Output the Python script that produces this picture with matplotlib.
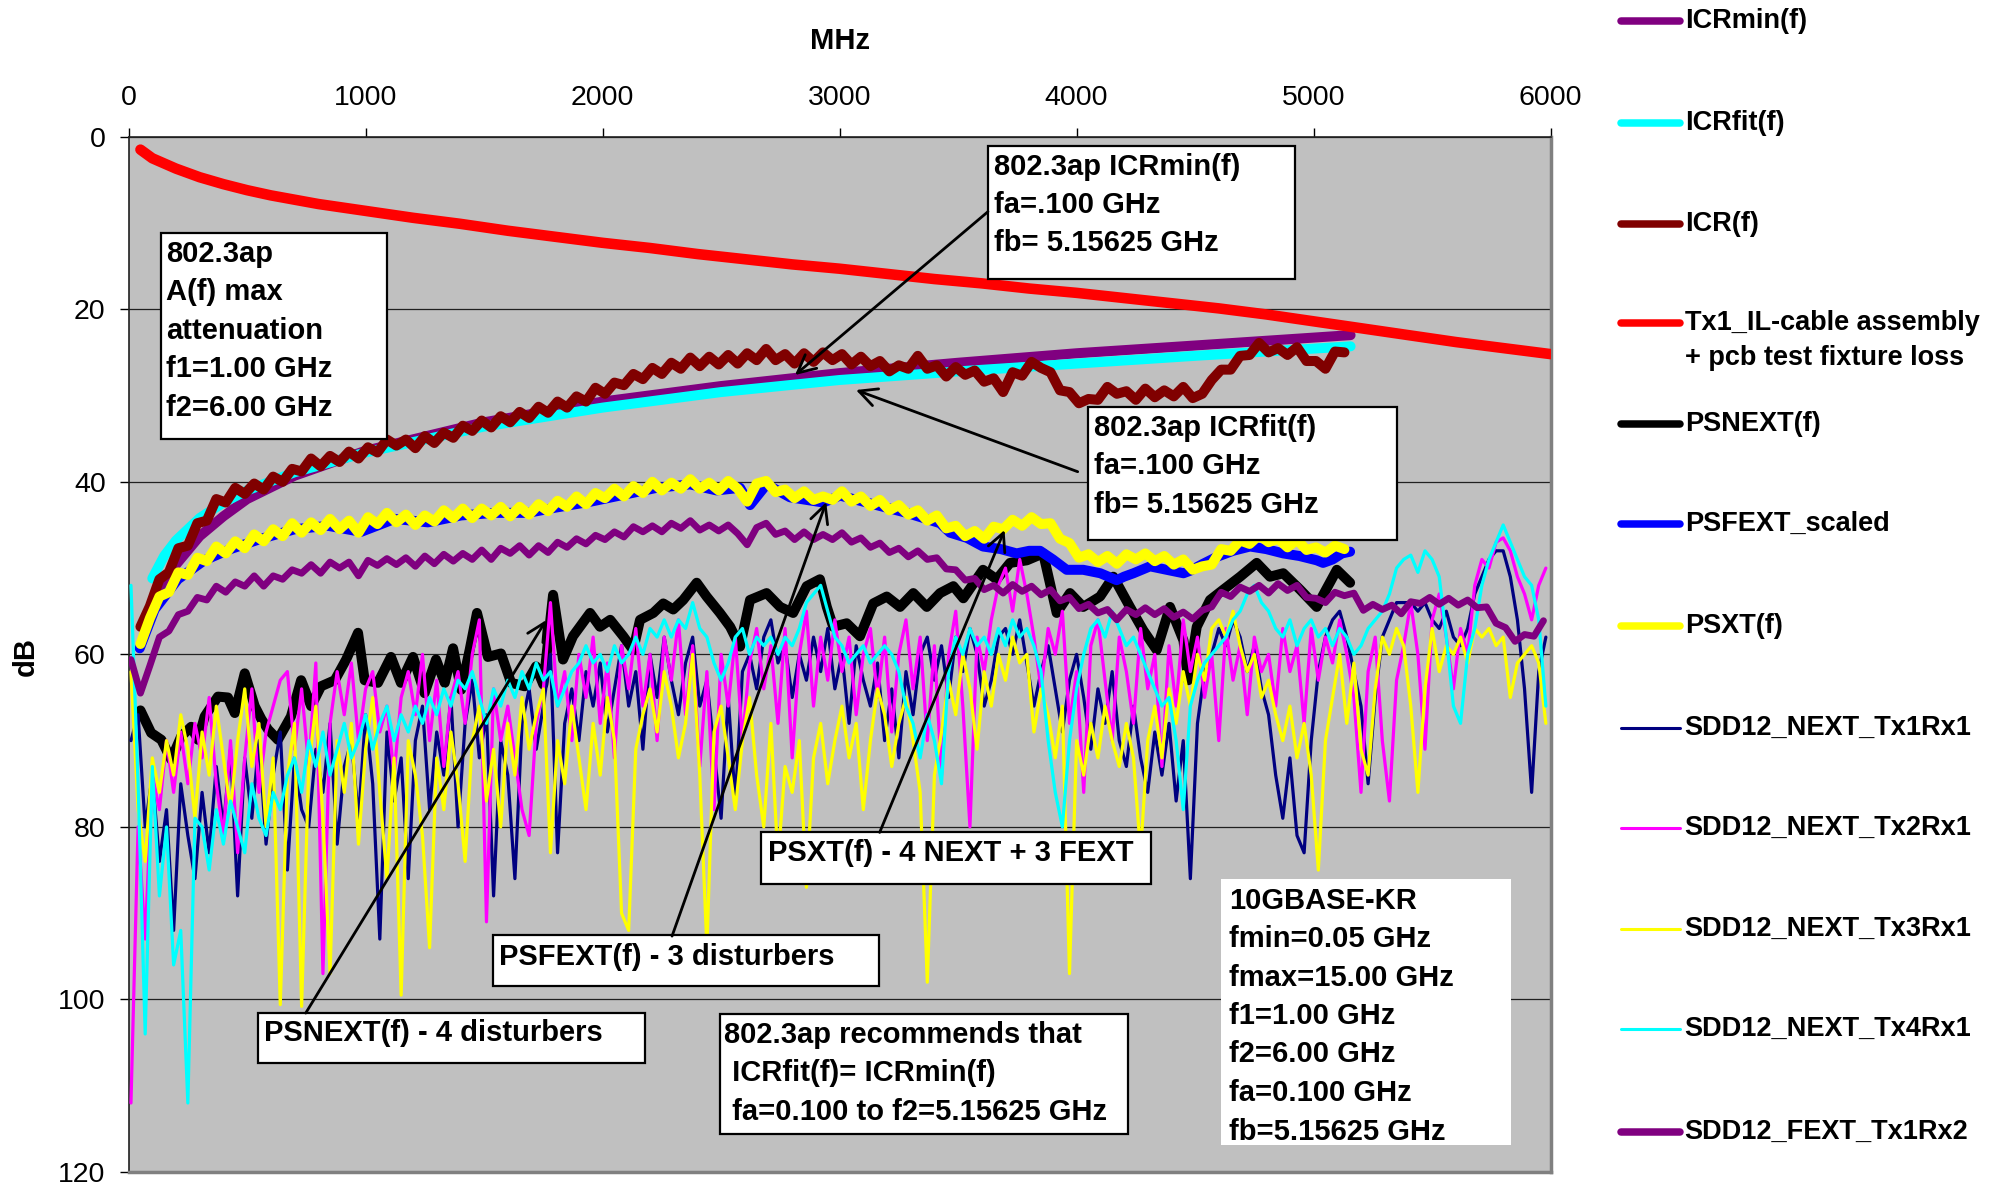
import numpy as np
import matplotlib
matplotlib.use('Agg')
import matplotlib.pyplot as plt
from matplotlib.lines import Line2D
from matplotlib.patches import Rectangle

plt.rcParams['font.family'] = ['Liberation Sans', 'DejaVu Sans']

# ---------------- data (MHz, dB) ----------------
# SDD12 sweep grid (MHz), 30 MHz step
f_sdd = np.arange(10, 6000, 30)

next_tx1rx1 = [
    70, 67, 80, 74, 84, 78, 92, 75, 81, 86, 76, 83, 73, 80, 71, 88, 72, 79, 70, 82,
    74, 69, 85, 72, 78, 80, 71, 76, 68, 82, 73, 70, 79, 67, 75, 93, 69, 77, 72, 86,
    70, 66, 78, 69, 74, 65, 80, 68, 63, 72, 67, 88, 70, 74, 86, 68, 64, 71, 66, 60,
    83, 68, 64, 70, 62, 66, 61, 69, 64, 59, 66, 62, 71, 60, 65, 58, 63, 67, 61, 58,
    66, 63, 71, 79, 65, 77, 62, 60, 64, 58, 56, 61, 59, 65, 60, 63, 58, 62, 57, 64,
    60, 68, 59, 63, 66, 61, 70, 64, 72, 62, 67, 60, 58, 63, 59, 65, 58, 62, 57, 60,
    66, 63, 58, 57, 60, 56, 61, 66, 62, 59, 64, 69, 63, 60, 65, 71, 64, 68, 62, 70,
    73, 66, 72, 76, 69, 74, 68, 77, 70, 86, 68, 62, 60, 57, 59, 56, 58, 62, 59, 64,
    67, 74, 79, 72, 81, 83, 70, 62, 58, 56, 55, 58, 62, 66, 75, 65, 58, 56, 54, 54,
    54, 55, 54, 56, 57, 55, 58, 59, 57, 53, 51, 49, 48, 48, 51, 56, 64, 76, 62, 58]

next_tx2rx1 = [
    112, 80, 93, 74, 78, 70, 76, 69, 75, 68, 72, 65, 75, 81, 70, 83, 72, 64, 76, 69,
    66, 63, 62, 71, 64, 73, 61, 97, 68, 62, 67, 61, 70, 64, 62, 69, 66, 74, 65, 62,
    67, 60, 70, 63, 73, 65, 62, 68, 60, 56, 91, 64, 70, 66, 72, 78, 81, 68, 64, 54,
    66, 62, 70, 60, 65, 58, 68, 61, 72, 59, 64, 57, 66, 60, 70, 58, 63, 56, 67, 59,
    73, 62, 78, 60, 66, 58, 70, 61, 57, 64, 59, 68, 57, 72, 60, 55, 66, 58, 63, 56,
    62, 58, 67, 60, 57, 65, 58, 69, 60, 56, 64, 58, 70, 59, 74, 60, 55, 66, 80, 58,
    62, 56, 52, 50, 55, 49, 53, 58, 64, 57, 60, 55, 68, 62, 76, 59, 56, 63, 70, 58,
    62, 68, 57, 64, 60, 73, 59, 66, 56, 62, 58, 65, 60, 70, 57, 63, 59, 67, 58, 62,
    60, 66, 57, 62, 59, 68, 57, 63, 58, 61, 56, 60, 65, 76, 62, 58, 70, 77, 63, 59,
    54, 60, 71, 56, 53, 58, 64, 57, 60, 52, 49, 50, 47, 46.5, 48, 51, 53, 56, 52, 50]

next_tx3rx1 = [
    62, 78, 84, 72, 76, 70, 74, 67, 71, 79, 69, 74, 66, 72, 78, 70, 64, 73, 68, 80,
    72, 100.6, 74, 68, 100.8, 73, 66, 79, 97, 70, 76, 68, 82, 71, 65, 76, 86, 72, 99.5, 70,
    74, 81, 94, 72, 78, 69, 75, 84, 70, 66, 77, 71, 80, 68, 74, 65, 71, 67, 64, 83,
    70, 75, 66, 72, 78, 68, 74, 65, 70, 90, 92, 71, 67, 64, 69, 62, 66, 72, 68, 60,
    74, 94, 69, 66, 72, 78, 70, 65, 74, 80, 68, 84, 73, 76, 70, 87, 72, 68, 75, 70,
    66, 72, 68, 78, 70, 64, 67, 73, 68, 65, 70, 76, 98, 74, 69, 63, 67, 60, 64, 71,
    62, 66, 60, 63, 58, 61, 60, 69, 64, 67, 72, 66, 97, 70, 74, 68, 72, 66, 70, 73,
    68, 72, 83, 70, 66, 72, 64, 68, 62, 66, 60, 63, 57, 56, 58, 55, 59, 62, 60, 65,
    63, 67, 70, 66, 72, 68, 74, 85, 70, 65, 60, 68, 61, 71, 74, 64, 58, 60, 57, 59,
    66, 76, 64, 57, 62, 59, 60, 58, 61, 57, 58, 57, 59, 58, 65, 61, 60, 59, 61, 68]

next_tx4rx1 = [
    52, 75, 104, 73, 88, 80, 96, 92, 112, 79, 80, 85, 78, 82, 77, 80, 83, 75, 79, 81,
    76, 78, 74, 72, 76, 70, 73, 69, 74, 71, 68, 72, 70, 67, 71, 68, 66, 70, 67, 69,
    66, 68, 65, 67, 64, 66, 63, 64, 62, 65, 68, 64, 66, 63, 65, 62, 64, 61, 63, 62,
    66, 64, 62, 61, 59, 61, 60, 62, 59, 61, 60, 58, 60, 57, 58, 56, 58, 56, 57, 54,
    57, 58, 61, 63, 61, 58, 57, 60, 58, 59, 58, 60, 58, 59, 57, 54, 53, 52, 55, 58,
    59, 61, 60, 59, 61, 60, 59, 60, 62, 66, 68, 72, 67, 70, 75, 62, 58, 60, 57, 59,
    58, 60, 57, 59, 56, 58, 57, 59, 62, 70, 76, 80, 70, 64, 60, 57, 56, 58, 55, 57,
    59, 58, 60, 62, 64, 66, 65, 70, 78, 66, 63, 61, 60, 59, 58, 56, 55, 53, 52, 54,
    55, 57, 58, 56, 59, 57, 56, 58, 57, 59, 57, 58, 60, 59, 57, 56, 55, 53, 50, 49,
    48.5, 50.5, 48, 49, 51, 58, 66, 68, 60, 57, 52, 49, 47, 45, 47, 49, 51, 52, 56, 66]

# SDD12_FEXT_Tx1Rx2, 40 MHz step from 10 MHz
f_fext = np.arange(10, 6000, 40)
fext_tx1rx2 = [
    60.6, 64.5, 61.3, 58.0, 57.3, 55.4, 55.0, 53.4, 53.7, 52.1, 52.8, 51.6, 52.1, 50.9, 52.1,
    50.9, 51.3, 50.2, 50.6, 49.6, 50.6, 49.3, 50.0, 49.3, 50.9, 49.1, 49.7, 48.9, 49.6, 48.8,
    49.8, 48.6, 49.5, 48.4, 49.2, 48.3, 49.0, 47.9, 49.0, 47.7, 48.3, 47.4, 48.5, 47.4, 48.2,
    47.0, 47.6, 46.6, 47.2, 46.2, 46.7, 45.8, 46.4, 45.2, 45.8, 45.1, 45.8, 44.8, 45.4, 44.5,
    45.6, 45.0, 45.7, 45.0, 46.0, 47.3, 45.3, 44.8, 46.1, 45.7, 46.7, 45.8, 46.7, 46.1, 46.7,
    45.9, 47.0, 46.5, 47.6, 47.1, 48.2, 47.7, 48.7, 48.0, 49.0, 48.8, 50.1, 50.2, 51.4, 51.2,
    52.5, 52.0, 52.9, 51.9, 52.7, 52.1, 53.1, 52.5, 53.8, 53.4, 54.7, 54.2, 55.2, 54.8, 56.0,
    54.8, 55.4, 54.6, 55.4, 54.7, 55.7, 55.1, 55.9, 54.9, 54.5, 52.8, 53.3, 52.2, 52.7, 52.0,
    52.9, 51.8, 52.6, 52.0, 53.4, 53.5, 54.0, 52.8, 53.2, 52.9, 54.9, 54.2, 54.8, 54.3, 55.3,
    53.9, 54.1, 53.4, 54.2, 53.5, 54.3, 53.7, 54.6, 54.5, 56.4, 56.9, 58.5, 57.7, 57.9, 56.1]

# Tx1_IL-cable assembly + pcb test fixture loss
f_il = [50, 100, 200, 300, 400, 500, 600, 700, 800, 900, 1000, 1200, 1400, 1600, 1800, 2000,
        2200, 2400, 2600, 2800, 3000, 3200, 3400, 3600, 3800, 4000, 4200, 4400, 4600, 4800,
        5000, 5200, 5400, 5600, 5800, 6000]
il_loss = [1.5, 2.5, 3.7, 4.7, 5.5, 6.2, 6.8, 7.3, 7.8, 8.2, 8.6, 9.4, 10.1, 10.9, 11.6, 12.3,
           12.9, 13.6, 14.2, 14.8, 15.3, 15.9, 16.5, 17.0, 17.6, 18.1, 18.7, 19.3, 19.9, 20.6,
           21.4, 22.2, 23.0, 23.8, 24.5, 25.2]

# ICRmin(f) and ICRfit(f), fa = 100 MHz .. fb = 5156.25 MHz
f_icr_lim = [100, 150, 200, 300, 400, 500, 700, 1000, 1500, 2000, 2500, 3000, 3500, 4000,
             4500, 5156]
icr_min = [55.1, 51.8, 49.6, 46.3, 44.0, 42.0, 39.3, 36.4, 33.1, 30.7, 28.9, 27.4, 26.2,
           25.1, 24.2, 23.0]
icr_fit = [51.2, 48.6, 46.8, 44.2, 42.4, 41.0, 38.9, 36.6, 33.6, 31.4, 29.6, 28.2, 27.2,
           26.3, 25.4, 24.3]

# thick measured curves, 40 MHz step from 50 MHz up to fb
f_meas = np.arange(50, 5170, 40)

icr = [
    56.8, 54.4, 51.3, 50.5, 47.7, 47.4, 44.8, 44.5, 42.0, 42.4, 40.7, 41.4, 40.2, 40.9, 39.4,
    40.0, 38.5, 38.8, 37.3, 38.2, 37.0, 37.7, 36.5, 37.3, 36.0, 36.6, 35.1, 35.8, 35.1, 36.1,
    34.7, 35.5, 34.3, 34.9, 33.5, 34.1, 32.9, 33.7, 32.4, 33.1, 31.9, 32.6, 31.3, 32.0, 30.7,
    31.4, 30.1, 30.7, 29.1, 29.8, 28.5, 28.8, 27.5, 28.1, 26.8, 27.5, 26.2, 26.9, 25.6, 26.6,
    25.5, 26.4, 25.3, 26.3, 25.1, 25.9, 24.6, 25.9, 25.2, 26.3, 25.1, 26.1, 25.0, 25.9, 25.2,
    26.4, 25.5, 26.6, 26.0, 27.2, 26.5, 26.9, 25.4, 26.9, 26.5, 27.8, 26.7, 27.6, 27.1, 28.4,
    28.0, 29.6, 27.3, 27.7, 26.1, 26.8, 27.3, 29.4, 29.6, 30.9, 30.4, 30.5, 29.0, 29.8, 29.5,
    30.5, 29.2, 30.2, 29.4, 30.1, 29.0, 30.3, 29.8, 28.2, 27.0, 27.0, 25.4, 25.3, 23.9, 25.0,
    24.5, 25.3, 24.4, 26.0, 26.0, 26.9, 24.9, 25.0]

psxt = [
    58.8, 55.8, 53.3, 52.8, 50.5, 50.8, 48.8, 49.2, 47.5, 48.3, 46.9, 47.7, 46.1, 46.9, 45.5,
    46.3, 44.8, 45.9, 44.7, 45.6, 44.3, 45.5, 44.5, 45.9, 44.1, 44.9, 43.6, 44.7, 43.8, 45.0,
    43.9, 44.6, 43.3, 44.2, 43.1, 44.2, 43.1, 43.9, 42.9, 44.0, 42.9, 43.8, 42.6, 43.4, 42.2,
    42.9, 41.7, 42.6, 41.3, 41.9, 40.8, 41.7, 40.5, 41.3, 40.0, 41.0, 40.1, 40.8, 39.7, 40.8,
    40.1, 41.0, 39.9, 40.8, 42.3, 40.2, 39.9, 41.2, 40.9, 41.9, 41.1, 42.1, 41.7, 42.1, 41.1,
    42.3, 41.7, 42.8, 42.1, 43.3, 42.7, 43.8, 43.3, 44.5, 43.9, 45.4, 45.1, 46.3, 45.7, 46.6,
    45.2, 45.5, 44.4, 45.1, 44.1, 44.9, 44.8, 46.6, 47.1, 48.8, 48.4, 49.3, 48.6, 49.5, 48.4,
    49.0, 48.3, 49.2, 48.6, 49.6, 49.0, 50.2, 49.8, 49.6, 47.8, 48.0, 46.8, 47.2, 46.2, 47.0,
    46.6, 47.6, 46.7, 47.9, 47.6, 48.2, 47.4, 47.8]

# PSNEXT(f)
f_psnext = [50, 95, 138, 180, 222, 264, 293, 321, 350, 377, 419, 448, 490, 532, 560, 588, 630,
            685, 728, 770, 812, 870, 918, 968, 996, 1052, 1107, 1149, 1200, 1249, 1297, 1334,
            1369, 1403, 1439, 1470, 1516, 1571, 1614, 1671, 1719, 1750, 1791, 1833, 1875, 1947,
            1989, 2032, 2087, 2129, 2158, 2214, 2256, 2298, 2340, 2397, 2439, 2495, 2538, 2580,
            2622, 2692, 2749, 2804, 2861, 2917, 2946, 2973, 3030, 3086, 3142, 3199, 3255, 3311,
            3368, 3424, 3480, 3522, 3605, 3663, 3719, 3790, 3859, 3916, 3972, 4028, 4099, 4155,
            4225, 4281, 4338, 4394, 4451, 4471, 4507, 4563, 4619, 4690, 4760, 4816, 4872, 4943,
            5013, 5098, 5154]
psnext = [66.5, 69.1, 69.9, 72.2, 69.5, 68.4, 69.9, 67.2, 66.0, 64.9, 65.0, 66.8, 62.2, 66.0,
          67.5, 68.7, 69.9, 67.2, 63.0, 66.0, 63.7, 63.0, 60.6, 57.5, 63.0, 63.3, 60.3, 63.3,
          60.3, 64.5, 60.6, 63.3, 59.3, 64.1, 59.5, 55.2, 60.3, 59.9, 63.3, 63.7, 61.4, 63.5,
          53.1, 60.6, 57.9, 55.2, 56.8, 56.0, 57.9, 59.5, 56.0, 55.2, 54.1, 54.8, 53.7, 51.7,
          53.3, 55.2, 56.8, 59.1, 53.7, 52.9, 54.5, 55.2, 52.1, 51.3, 54.5, 56.8, 56.4, 57.9,
          54.1, 53.3, 54.5, 52.9, 54.5, 52.9, 52.1, 53.5, 50.2, 51.3, 49.4, 49.1, 48.3, 55.2,
          52.9, 54.5, 53.3, 51.0, 54.5, 57.2, 59.5, 54.5, 58.4, 63.0, 56.8, 53.7, 52.5, 51.0,
          49.4, 51.0, 50.6, 52.5, 54.5, 50.2, 51.7]

# PSFEXT_scaled
f_psfext = [47, 110, 208, 320, 430, 559, 701, 841, 981, 1123, 1263, 1403, 1545, 1685, 1800,
            1950, 2090, 2228, 2369, 2481, 2580, 2622, 2692, 2791, 2931, 3002, 3142, 3283, 3424,
            3466, 3537, 3605, 3680, 3747, 3800, 3846, 3900, 3958, 4028, 4100, 4169, 4200, 4240,
            4310, 4380, 4451, 4480, 4534, 4592, 4660, 4732, 4800, 4872, 4940, 5013, 5040, 5080,
            5120, 5154]
psfext = [59.3, 54.8, 51.3, 49.1, 47.8, 46.6, 45.5, 45.1, 45.8, 44.3, 44.7, 43.9, 43.6, 43.6,
          43.0, 42.3, 41.5, 40.7, 40.3, 41.0, 40.7, 42.7, 40.3, 41.8, 42.4, 41.6, 42.6, 43.6,
          44.8, 45.9, 46.5, 47.5, 47.8, 48.3, 48.0, 48.0, 49.0, 50.2, 50.2, 50.6, 51.4, 51.0,
          50.6, 49.8, 50.2, 50.6, 50.3, 49.5, 48.7, 48.0, 47.5, 47.8, 48.3, 48.6, 49.1, 49.4,
          49.0, 48.3, 48.1]

# ---------------- figure ----------------
W, H = 1998, 1190
fig = plt.figure(figsize=(W / 100, H / 100), dpi=100)
L, R, T, B = 128.6, 1550.6, 136.7, 1172.0
ax = fig.add_axes([L / W, 1 - B / H, (R - L) / W, (B - T) / H])
ax.set_facecolor('#C0C0C0')

thick = 7.2
thin = 2.3
series = [
    (f_icr_lim, icr_min, '#800080', thick, 'ICRmin(f)'),
    (f_icr_lim, icr_fit, '#00FFFF', thick, 'ICRfit(f)'),
    (f_meas, icr, '#800000', thick, 'ICR(f)'),
    (f_il, il_loss, '#FF0000', 7.6, 'Tx1_IL-cable assembly\n+ pcb test fixture loss'),
    (f_psnext, psnext, '#000000', thick, 'PSNEXT(f)'),
    (f_psfext, psfext, '#0000FF', thick, 'PSFEXT_scaled'),
    (f_meas, psxt, '#FFFF00', thick, 'PSXT(f)'),
    (f_sdd, next_tx1rx1, '#000080', thin, 'SDD12_NEXT_Tx1Rx1'),
    (f_sdd, next_tx2rx1, '#FF00FF', thin, 'SDD12_NEXT_Tx2Rx1'),
    (f_sdd, next_tx3rx1, '#FFFF00', thin, 'SDD12_NEXT_Tx3Rx1'),
    (f_sdd, next_tx4rx1, '#00FFFF', thin, 'SDD12_NEXT_Tx4Rx1'),
    (f_fext, fext_tx1rx2, '#800080', 4.9, 'SDD12_FEXT_Tx1Rx2'),
]
for x, y, c, lw, lab in series:
    ax.plot(x, y, color=c, lw=lw, solid_joinstyle='round', solid_capstyle='round', zorder=3)

ax.set_xlim(0, 6000)
ax.set_ylim(120, 0)
ax.set_xticks(range(0, 6001, 1000))
ax.set_yticks(range(0, 121, 20))
ax.xaxis.tick_top()
ax.tick_params(axis='x', direction='out', length=6.5, width=1, pad=12, labelsize=20.5)
ax.tick_params(axis='y', direction='out', length=6.5, width=1, pad=10, labelsize=20.5)
ax.yaxis.grid(True, color='#202020', lw=0.9)
ax.set_axisbelow(True)
for side in ('top', 'left'):
    ax.spines[side].set_color('#202020')
    ax.spines[side].set_linewidth(1.2)
for side in ('right', 'bottom'):
    ax.spines[side].set_color('#808080')
    ax.spines[side].set_linewidth(2.5)

fig.text(839.7 / W, 1 - 40.8 / H, 'MHz', ha='center', va='center', fontsize=21, fontweight='bold')
fig.text(25.5 / W, 1 - 656 / H, 'dB', ha='center', va='center', rotation=90,
         fontsize=21, fontweight='bold')

# ---------------- annotations ----------------
BOX_FS = 21


def text_box(x0, x1, y0, y1, tx, lines_y, lines, edge=True):
    ax.add_patch(Rectangle((x0, y0), x1 - x0, y1 - y0, facecolor='white',
                           edgecolor='black' if edge else 'none', lw=1.6, zorder=10))
    for ty, s in zip(lines_y, lines):
        ax.text(tx, ty, s, ha='left', va='center', fontsize=BOX_FS, fontweight='bold', zorder=11)


text_box(135.6, 1088.6, 11.16, 35.04, 157.8, [13.55, 18.03, 22.5, 26.97, 31.45],
         ['802.3ap', 'A(f) max', 'attenuation', 'f1=1.00 GHz', 'f2=6.00 GHz'])
text_box(3626, 4923, 1.04, 16.53, 3650.6, [3.48, 7.92, 12.36],
         ['802.3ap ICRmin(f)', 'fa=.100 GHz', 'fb= 5.15625 GHz'])
text_box(4049, 5350.6, 31.37, 46.75, 4074.7, [33.77, 38.17, 42.65],
         ['802.3ap ICRfit(f)', 'fa=.100 GHz', 'fb= 5.15625 GHz'])
text_box(2670, 4312, 80.64, 86.66, 2696.6, [83.03], ['PSXT(f) - 4 NEXT + 3 FEXT'])
text_box(1537.6, 3166, 92.54, 98.45, 1563, [95.05], ['PSFEXT(f) - 3 disturbers'])
text_box(546, 2179, 101.58, 107.38, 573.4, [103.94], ['PSNEXT(f) - 4 disturbers'])
text_box(2495.4, 4218.6, 101.7, 115.6, 2511, [104.13, 108.53, 113.0],
         ['802.3ap recommends that', ' ICRfit(f)= ICRmin(f)', ' fa=0.100 to f2=5.15625 GHz'])
text_box(4609, 5833, 86.08, 116.9, 4642.6,
         [88.6, 93.04, 97.49, 101.93, 106.37, 110.89, 115.34],
         ['10GBASE-KR', 'fmin=0.05 GHz', 'fmax=15.00 GHz', 'f1=1.00 GHz', 'f2=6.00 GHz',
          'fa=0.100 GHz', 'fb=5.15625 GHz'], edge=False)

arrows = [
    ((3626, 8.69), (2812, 27.62)),
    ((4004.6, 38.83), (3069, 29.36)),
    ((3169, 80.64), (3696, 45.59)),
    ((2293, 92.66), (2943.5, 42.35)),
    ((747.3, 101.58), (1762, 56.03)),
]
for tail, head in arrows:
    ax.annotate('', xy=head, xytext=tail, zorder=12,
                arrowprops=dict(arrowstyle='->', color='black', lw=2.0, mutation_scale=32,
                                shrinkA=0, shrinkB=0))

# ---------------- legend (outside plot, right side) ----------------
leg_y = [21, 122.5, 224, 323.4, 424, 524.3, 626.4, 727.8, 828, 928.7, 1029.3, 1131.5]
for (x, y, c, lw, lab), ly in zip(series, leg_y):
    fig.add_artist(Line2D([1621 / W, 1680 / W], [1 - ly / H, 1 - ly / H], color=c,
                          lw=5.4 if lw > 3 else 2.2, solid_capstyle='round'))
    for k, part in enumerate(lab.split('\n')):
        fig.text(1684.7 / W, 1 - (ly + 34.4 * k) / H, part, ha='left', va='center',
                 fontsize=19.5, fontweight='bold')

fig.savefig('out.png', dpi=100)
